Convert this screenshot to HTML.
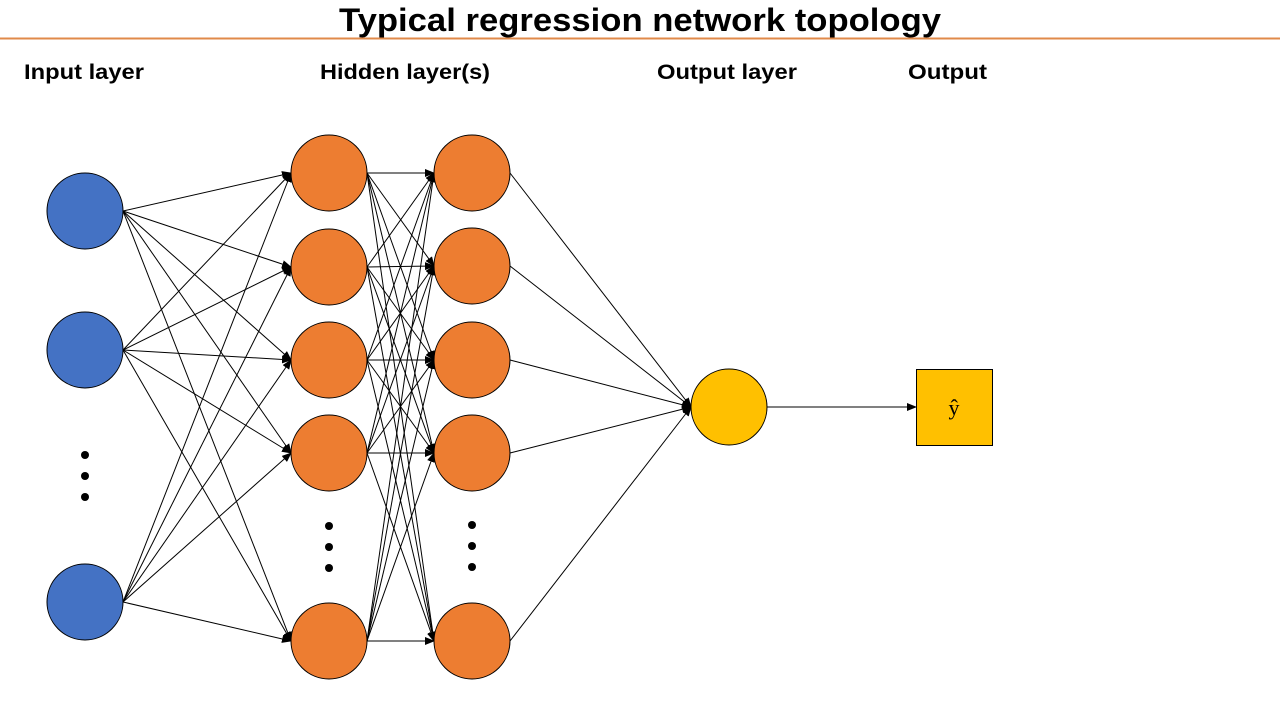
<!DOCTYPE html>
<html><head><meta charset="utf-8"><style>html,body{margin:0;padding:0;background:#fff}svg{display:block}</style></head>
<body>
<svg width="1280" height="720" viewBox="0 0 1280 720" xmlns="http://www.w3.org/2000/svg">
<defs>
<marker id="a" markerUnits="userSpaceOnUse" markerWidth="10" markerHeight="8" refX="9" refY="4" orient="auto">
<path d="M0,0 L10,4 L0,8 Z" fill="#000"/>
</marker>
</defs>
<text x="640" y="31" text-anchor="middle" font-family="Liberation Sans, sans-serif" font-weight="bold" font-size="32" textLength="602" lengthAdjust="spacingAndGlyphs">Typical regression network topology</text>
<line x1="0" y1="38.5" x2="1280" y2="38.5" stroke="#E08A4A" stroke-width="2"/>
<g font-family="Liberation Sans, sans-serif" font-weight="bold" font-size="21">
<text x="24" y="79" textLength="120" lengthAdjust="spacingAndGlyphs">Input layer</text>
<text x="320" y="79" textLength="170" lengthAdjust="spacingAndGlyphs">Hidden layer(s)</text>
<text x="657" y="79" textLength="140" lengthAdjust="spacingAndGlyphs">Output layer</text>
<text x="908" y="79" textLength="79" lengthAdjust="spacingAndGlyphs">Output</text>
</g>
<g stroke="#000" stroke-width="1" marker-end="url(#a)">
<!-- input -> h1 -->
<line x1="123" y1="211" x2="291" y2="173"/><line x1="123" y1="211" x2="291" y2="267"/><line x1="123" y1="211" x2="291" y2="360"/><line x1="123" y1="211" x2="291" y2="453"/><line x1="123" y1="211" x2="291" y2="641"/>
<line x1="123" y1="350" x2="291" y2="173"/><line x1="123" y1="350" x2="291" y2="267"/><line x1="123" y1="350" x2="291" y2="360"/><line x1="123" y1="350" x2="291" y2="453"/><line x1="123" y1="350" x2="291" y2="641"/>
<line x1="123" y1="602" x2="291" y2="173"/><line x1="123" y1="602" x2="291" y2="267"/><line x1="123" y1="602" x2="291" y2="360"/><line x1="123" y1="602" x2="291" y2="453"/><line x1="123" y1="602" x2="291" y2="641"/>
<!-- h1 -> h2 -->
<line x1="367" y1="173" x2="434" y2="173"/><line x1="367" y1="173" x2="434" y2="266"/><line x1="367" y1="173" x2="434" y2="360"/><line x1="367" y1="173" x2="434" y2="453"/><line x1="367" y1="173" x2="434" y2="641"/>
<line x1="367" y1="267" x2="434" y2="173"/><line x1="367" y1="267" x2="434" y2="266"/><line x1="367" y1="267" x2="434" y2="360"/><line x1="367" y1="267" x2="434" y2="453"/><line x1="367" y1="267" x2="434" y2="641"/>
<line x1="367" y1="360" x2="434" y2="173"/><line x1="367" y1="360" x2="434" y2="266"/><line x1="367" y1="360" x2="434" y2="360"/><line x1="367" y1="360" x2="434" y2="453"/><line x1="367" y1="360" x2="434" y2="641"/>
<line x1="367" y1="453" x2="434" y2="173"/><line x1="367" y1="453" x2="434" y2="266"/><line x1="367" y1="453" x2="434" y2="360"/><line x1="367" y1="453" x2="434" y2="453"/><line x1="367" y1="453" x2="434" y2="641"/>
<line x1="367" y1="641" x2="434" y2="173"/><line x1="367" y1="641" x2="434" y2="266"/><line x1="367" y1="641" x2="434" y2="360"/><line x1="367" y1="641" x2="434" y2="453"/><line x1="367" y1="641" x2="434" y2="641"/>
<!-- h2 -> out -->
<line x1="510" y1="173" x2="691" y2="407"/><line x1="510" y1="266" x2="691" y2="407"/><line x1="510" y1="360" x2="691" y2="407"/><line x1="510" y1="453" x2="691" y2="407"/><line x1="510" y1="641" x2="691" y2="407"/>
<line x1="767" y1="407" x2="916" y2="407"/>
</g>
<g stroke="#000" stroke-width="1">
<circle cx="85" cy="211" r="38" fill="#4472C4"/><circle cx="85" cy="350" r="38" fill="#4472C4"/><circle cx="85" cy="602" r="38" fill="#4472C4"/>
<g fill="#ED7D31">
<circle cx="329" cy="173" r="38"/><circle cx="329" cy="267" r="38"/><circle cx="329" cy="360" r="38"/><circle cx="329" cy="453" r="38"/><circle cx="329" cy="641" r="38"/>
<circle cx="472" cy="173" r="38"/><circle cx="472" cy="266" r="38"/><circle cx="472" cy="360" r="38"/><circle cx="472" cy="453" r="38"/><circle cx="472" cy="641" r="38"/>
</g>
<circle cx="729" cy="407" r="38" fill="#FFC000"/>
<rect x="916.5" y="369.5" width="76" height="76" fill="#FFC000"/>
</g>
<g fill="#000">
<circle cx="85" cy="455" r="4"/><circle cx="85" cy="476" r="4"/><circle cx="85" cy="497" r="4"/>
<circle cx="329" cy="526" r="4"/><circle cx="329" cy="547" r="4"/><circle cx="329" cy="568" r="4"/>
<circle cx="472" cy="525" r="4"/><circle cx="472" cy="546" r="4"/><circle cx="472" cy="567" r="4"/>
</g>
<text x="954" y="415" text-anchor="middle" font-family="Liberation Serif, serif" font-size="22">ŷ</text>
</svg>
</body></html>
